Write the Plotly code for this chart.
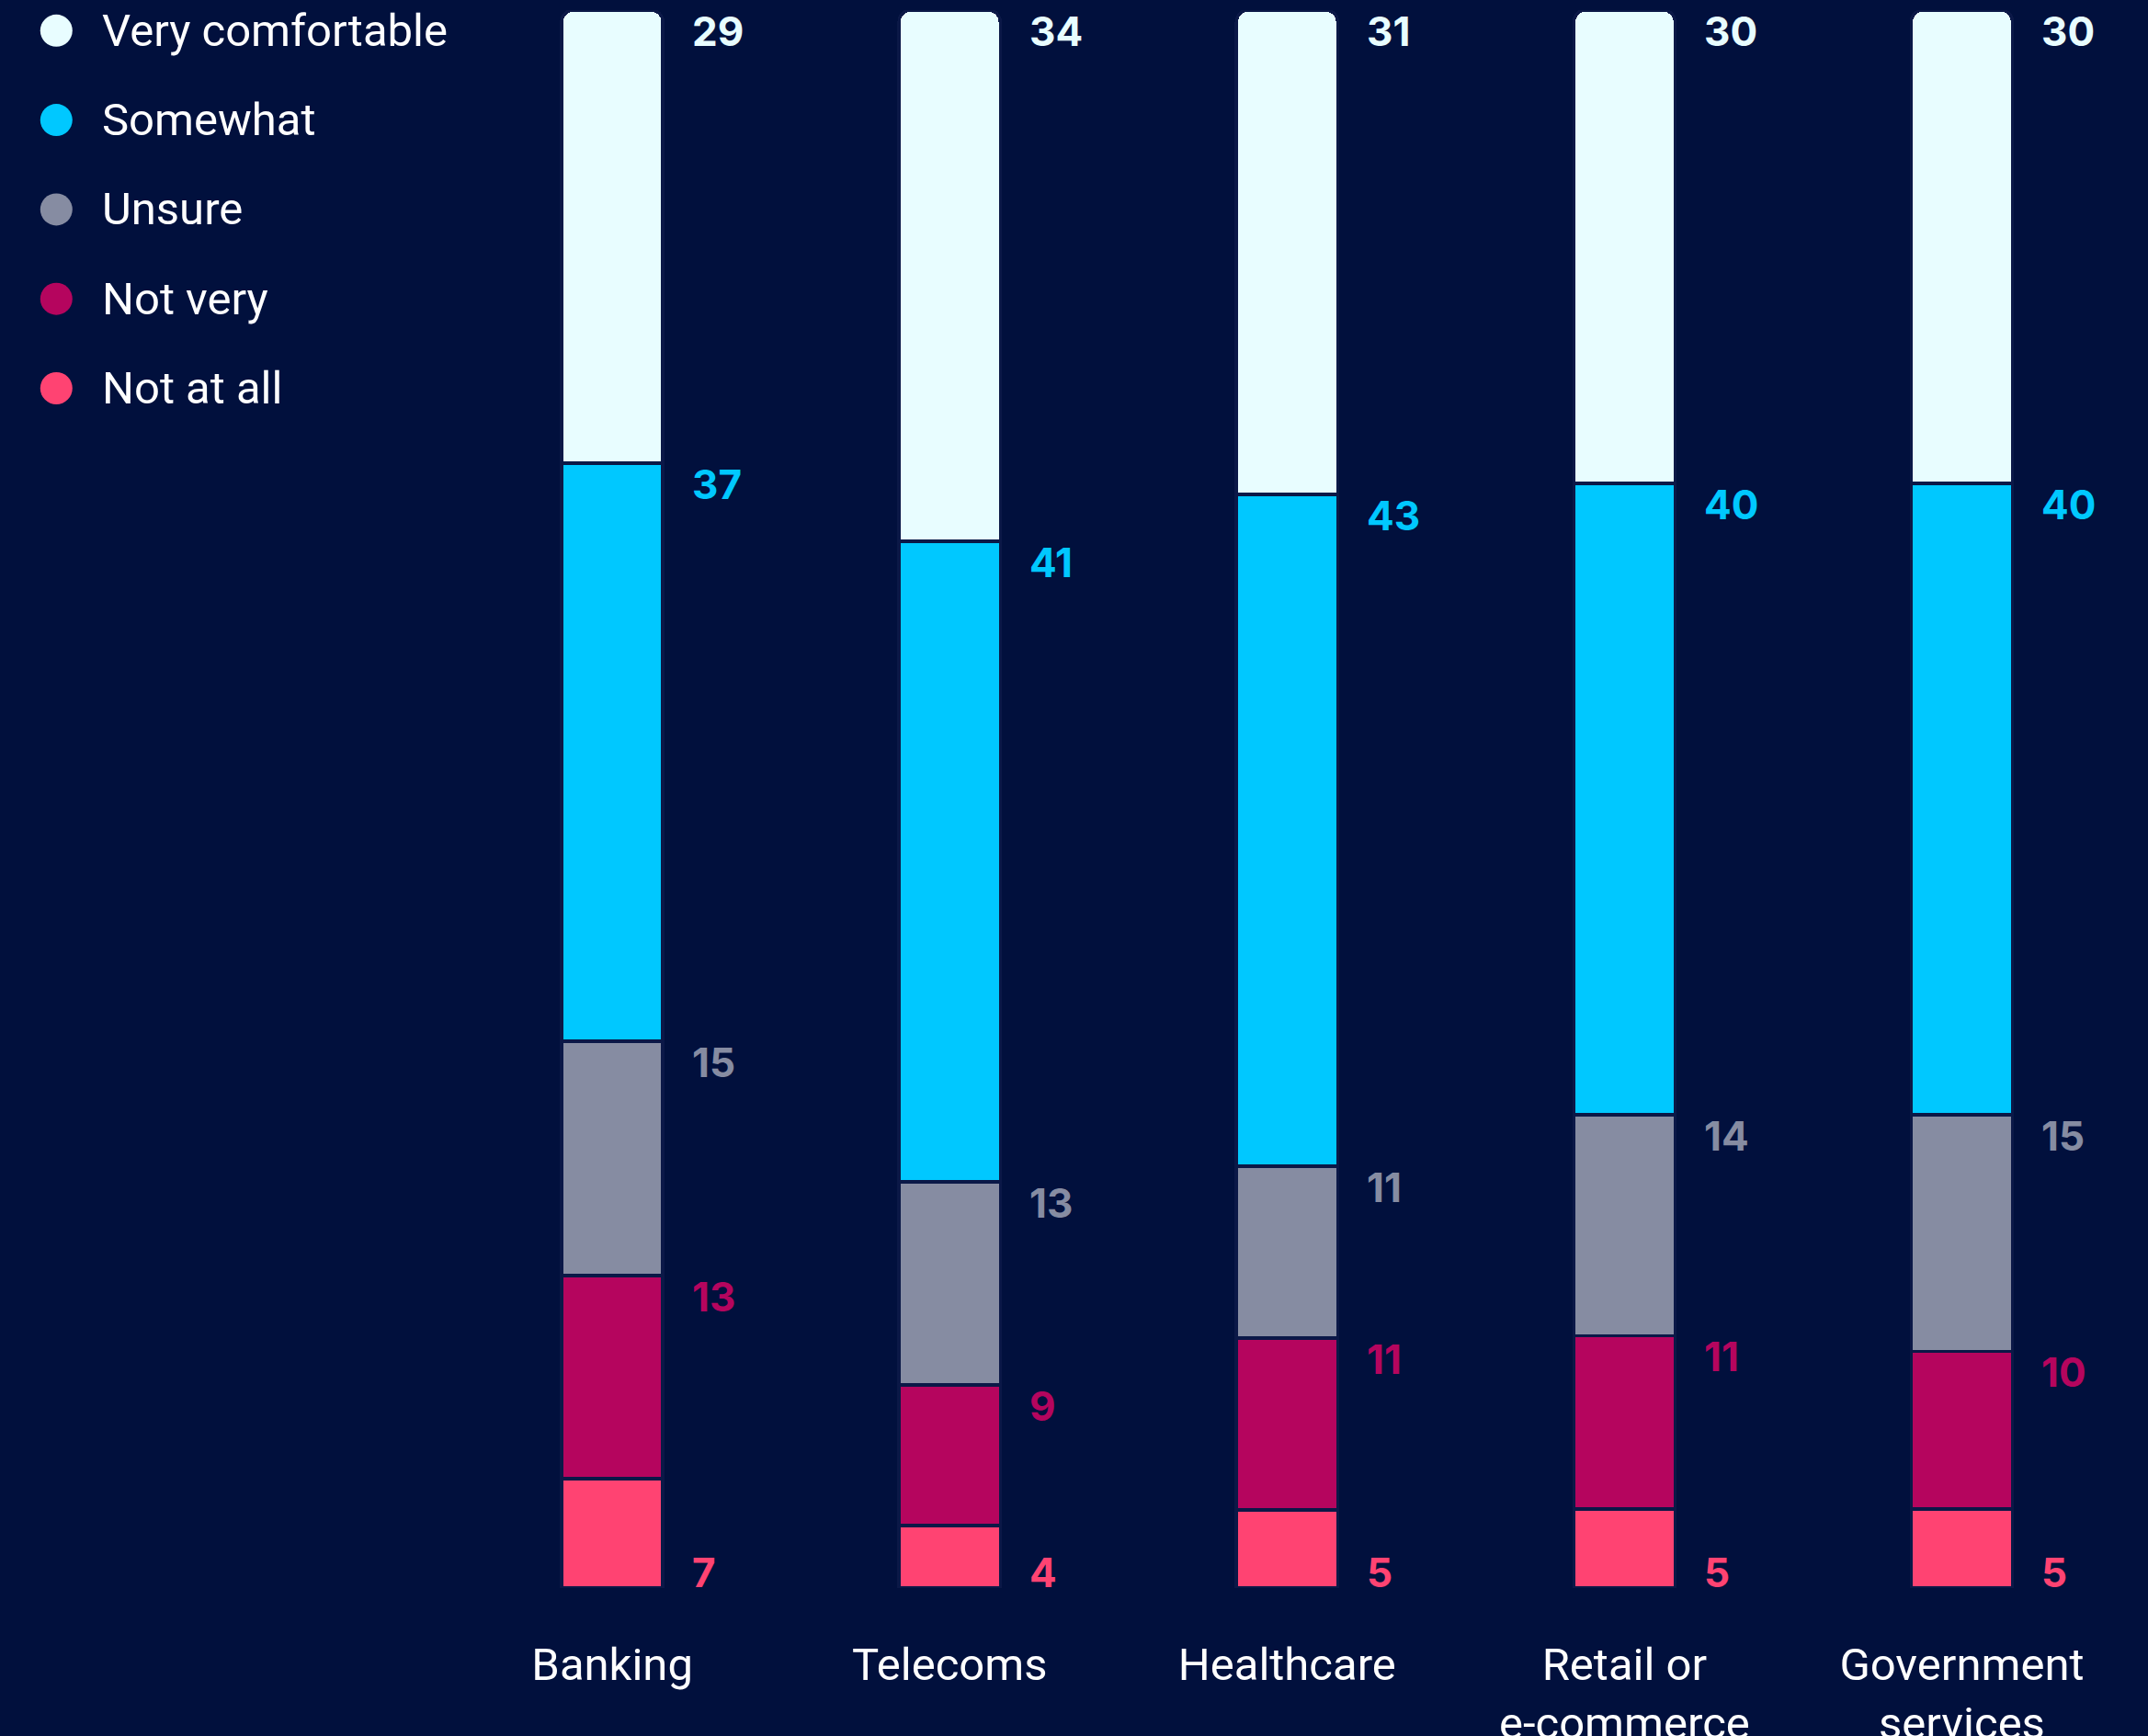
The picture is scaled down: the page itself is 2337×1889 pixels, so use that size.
import plotly.graph_objects as go

# ---- data ----
categories = ["Banking", "Telecoms", "Healthcare", "Retail or<br>e-commerce", "Government<br>services"]
series_names = ["Very comfortable", "Somewhat", "Unsure", "Not very", "Not at all"]
very_comfortable = [29, 34, 31, 30, 30]
somewhat = [37, 41, 43, 40, 40]
unsure = [15, 13, 11, 14, 15]
not_very = [13, 9, 11, 11, 10]
not_at_all = [7, 4, 5, 5, 5]

colors = {
    "Very comfortable": "#e8fdff",
    "Somewhat": "#00c8ff",
    "Unsure": "#868ca2",
    "Not very": "#b5055e",
    "Not at all": "#ff4372",
}
BG = "#01103d"

values = {
    "Very comfortable": very_comfortable,
    "Somewhat": somewhat,
    "Unsure": unsure,
    "Not very": not_very,
    "Not at all": not_at_all,
}

# stacking order bottom -> top
stack_order = ["Not at all", "Not very", "Unsure", "Somewhat", "Very comfortable"]

fig = go.Figure()
for name in stack_order:
    fig.add_trace(go.Bar(
        x=categories, y=values[name], name=name,
        marker=dict(color=colors[name], line=dict(color="#0b1847", width=3.5)),
        showlegend=False, hoverinfo="skip",
    ))

NUM_FONT = dict(family="Inter", size=44, weight="bold")

# value labels at the top of each segment (bottom series at the bar base)
totals = [sum(values[n][i] for n in series_names) for i in range(len(categories))]
annotations = []
for i, cat in enumerate(categories):
    cum = 0
    for name in stack_order:
        v = values[name][i]
        cum += v
        top = cum / totals[i] * 100
        if name == "Not at all":
            annotations.append(dict(
                x=cat, y=0, xref="x", yref="y", text=str(v), showarrow=False,
                xanchor="left", yanchor="bottom", xshift=85, yshift=-12,
                font=dict(NUM_FONT, color=colors[name]),
            ))
        else:
            annotations.append(dict(
                x=cat, y=top, xref="x", yref="y", text=str(v), showarrow=False,
                xanchor="left", yanchor="top", xshift=85, yshift=6,
                font=dict(NUM_FONT, color=colors[name]),
            ))

# custom legend with large circle markers
legend_idx = list(range(len(series_names)))
LEG_X = 1.322
fig.add_trace(go.Scatter(
    x=[LEG_X] * len(series_names), y=legend_idx, xaxis="x2", yaxis="y2",
    mode="markers", marker=dict(size=35, color=[colors[n] for n in series_names], line=dict(width=0)),
    showlegend=False, hoverinfo="skip",
))
for k, name in zip(legend_idx, series_names):
    annotations.append(dict(
        x=LEG_X, y=k, xref="x2", yref="y2", text=name, showarrow=False,
        xanchor="left", yanchor="middle", xshift=48,
        font=dict(family="Roboto", size=49, color="#ffffff"),
    ))

fig.update_layout(
    width=2337, height=1889,
    paper_bgcolor=BG, plot_bgcolor=BG,
    barmode="stack", barnorm="percent", bargap=0.70, barcornerradius=13,
    margin=dict(l=0, r=19, t=11, b=161, autoexpand=False),
    xaxis=dict(domain=[0.2082, 1], type="category", showgrid=False, zeroline=False, showline=False,
               ticks="", ticklabelstandoff=50, automargin=False,
               tickfont=dict(family="Roboto", size=49, color="#ffffff")),
    yaxis=dict(range=[0, 100], showgrid=False, zeroline=False, showticklabels=False, showline=False,
               automargin=False),
    xaxis2=dict(domain=[0, 0.2], range=[0, 10], anchor="y2", visible=False),
    yaxis2=dict(domain=[0, 1], range=[17.418, -0.2292], anchor="x2", visible=False),
    annotations=annotations,
    showlegend=False,
)

fig.write_html(
    "out.html",
    config={"displayModeBar": False},
    post_script="document.body.style.margin='0';document.body.style.overflow='hidden';"
                "document.body.style.background='#01103d';",
)
